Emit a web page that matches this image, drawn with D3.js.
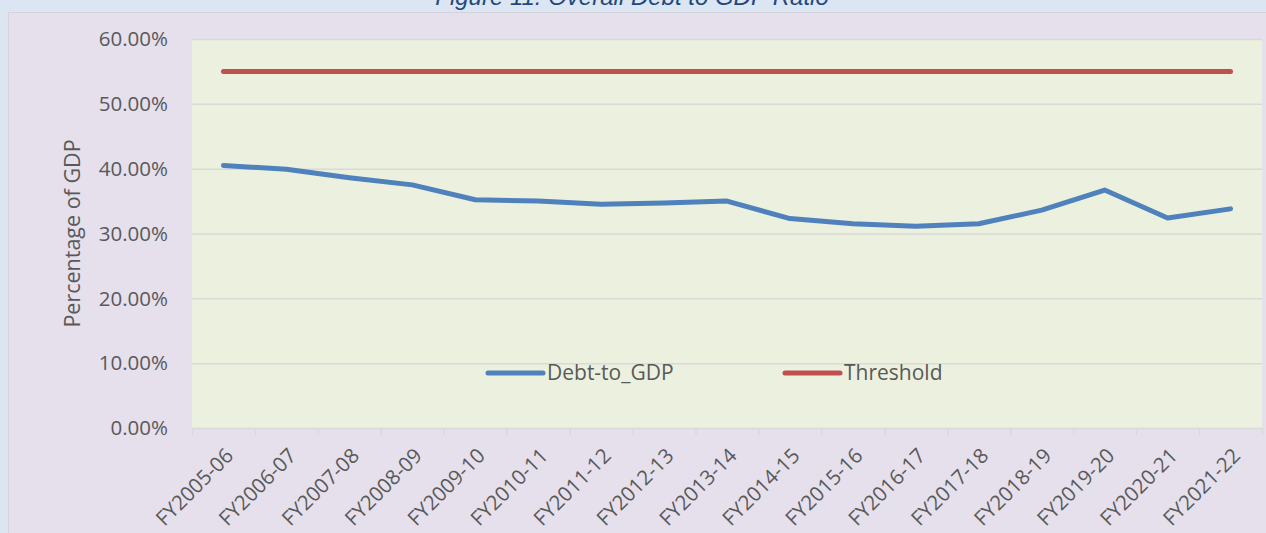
<!DOCTYPE html>
<html>
<head>
<meta charset="utf-8">
<script src="https://cdn.jsdelivr.net/npm/d3@7"></script>
<style>
  html, body { margin: 0; padding: 0; background: #dce6f2; }
  svg { display: block; }
</style>
</head>
<body>
<svg id="chartSVG" width="1266" height="533"></svg>
<script>
// data
var years = ["FY2005-06", "FY2006-07", "FY2007-08", "FY2008-09", "FY2009-10", "FY2010-11",
  "FY2011-12", "FY2012-13", "FY2013-14", "FY2014-15", "FY2015-16", "FY2016-17",
  "FY2017-18", "FY2018-19", "FY2019-20", "FY2020-21", "FY2021-22"];
var debtToGdp = [40.5, 39.9, 38.6, 37.5, 35.2, 35.0, 34.5, 34.7, 35.0, 32.3, 31.5, 31.1,
  31.5, 33.6, 36.7, 32.4, 33.8];
var threshold = [55, 55, 55, 55, 55, 55, 55, 55, 55, 55, 55, 55, 55, 55, 55, 55, 55];
var yTicks = [0, 10, 20, 30, 40, 50, 60];
var seriesNames = ["Debt-to_GDP", "Threshold"];

drawChart("#chartSVG");

function drawChart(elm) {
  var svg = d3.select(elm),
    W = +svg.attr("width"),
    H = +svg.attr("height");
  var font = "Open Sans, Lato, sans-serif";

  // chart area (lavender) on top of the blue page
  svg.append("rect")
    .attr("x", 8.5).attr("y", 12.5)
    .attr("width", W).attr("height", H)
    .attr("fill", "#e5e0ec")
    .attr("stroke", "#d3d3dc");

  // title, cut off at the top like the reference
  svg.append("text")
    .attr("x", 632).attr("y", 5)
    .attr("text-anchor", "middle")
    .attr("font-family", "Liberation Sans, Arial, sans-serif")
    .attr("font-style", "italic")
    .attr("font-size", 24)
    .attr("fill", "#1f497d")
    .text("Figure 11: Overall Debt to GDP Ratio");

  var margin = { left: 192, right: 4, top: 39, bottom: 105 };
  var width = W - margin.left - margin.right,
    height = H - margin.top - margin.bottom;

  var g = svg.append("g")
    .attr("transform", `translate(${margin.left},${margin.top})`);

  var x = d3.scaleBand().domain(years).range([0, width]);
  var y = d3.scaleLinear().domain([0, 60]).range([height, 0]);

  // plot area
  g.append("rect")
    .attr("width", width).attr("height", height)
    .attr("fill", "#ebf1de");

  // gridlines
  g.selectAll(".grid")
    .data(yTicks)
    .join("line")
    .attr("x1", 0).attr("x2", width)
    .attr("y1", d => y(d) + 0.5).attr("y2", d => y(d) + 0.5)
    .attr("stroke", "#d9d9d9")
    .attr("stroke-width", 1.5);

  // y axis labels
  g.selectAll(".ylab")
    .data(yTicks)
    .join("text")
    .attr("x", -24).attr("y", d => y(d))
    .attr("dy", "0.35em")
    .attr("text-anchor", "end")
    .attr("font-family", font)
    .attr("font-size", 20.5)
    .attr("fill", "#595959")
    .text(d => d.toFixed(2) + "%");

  // y axis title
  g.append("text")
    .attr("transform", `translate(-112,${y(30)}) rotate(-90)`)
    .attr("text-anchor", "middle")
    .attr("font-family", font)
    .attr("font-size", 21.5)
    .attr("fill", "#595959")
    .text("Percentage of GDP");

  // x axis tick marks at category boundaries
  var bounds = years.map(d => x(d)).concat([width]);
  g.selectAll(".xtick")
    .data(bounds)
    .join("line")
    .attr("x1", d => d + 0.5).attr("x2", d => d + 0.5)
    .attr("y1", height).attr("y2", height + 7)
    .attr("stroke", "#d9d9d9")
    .attr("stroke-width", 1.5);

  // x axis labels
  g.selectAll(".xlab")
    .data(years)
    .join("text")
    .attr("transform", d => `translate(${x(d) + x.bandwidth() / 2 + 6},${height + 24}) rotate(-45)`)
    .attr("text-anchor", "end")
    .attr("dy", "0.35em")
    .attr("font-family", font)
    .attr("font-size", 20.5)
    .attr("fill", "#595959")
    .text(d => d);

  var line = d3.line()
    .x((d, i) => x(years[i]) + x.bandwidth() / 2)
    .y(d => y(d));

  var colors = ["#4f81bd", "#c0504d"];
  [debtToGdp, threshold].forEach(function (s, i) {
    g.append("path")
      .datum(s)
      .attr("fill", "none")
      .attr("stroke", colors[i])
      .attr("stroke-width", 5)
      .attr("stroke-linecap", "round")
      .attr("stroke-linejoin", "round")
      .attr("d", line);
  });

  // legend
  var legX = [488, 785];
  var leg = svg.append("g");
  seriesNames.forEach(function (name, i) {
    leg.append("line")
      .attr("x1", legX[i]).attr("x2", legX[i] + 55)
      .attr("y1", 373).attr("y2", 373)
      .attr("stroke", colors[i])
      .attr("stroke-width", 5)
      .attr("stroke-linecap", "round");
    leg.append("text")
      .attr("x", legX[i] + 59).attr("y", 373)
      .attr("dy", "0.35em")
      .attr("font-family", font)
      .attr("font-size", 21)
      .attr("fill", "#595959")
      .text(name);
  });
}
</script>
</body>
</html>
